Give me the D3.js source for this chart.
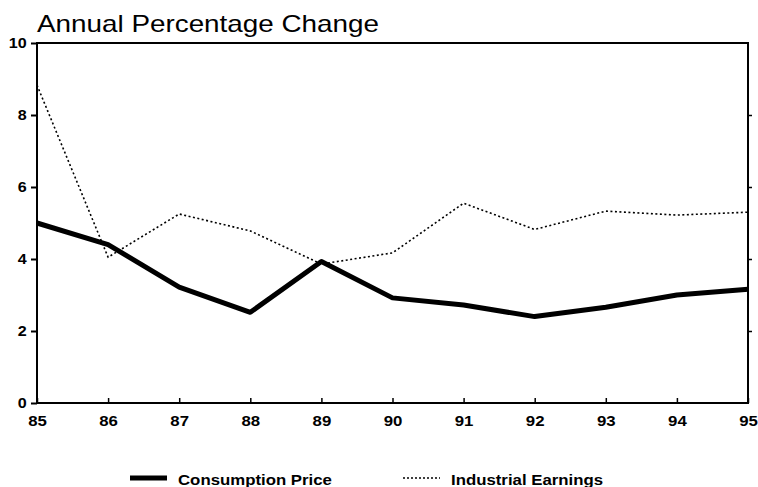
<!DOCTYPE html>
<html>
<head>
<meta charset="utf-8">
<script src="https://cdn.jsdelivr.net/npm/d3@7"></script>
<style>
  body { margin: 0; background: #fff; }
  svg { display: block; font-family: "Liberation Sans", Arial, sans-serif; }
  .tick text { font-weight: bold; font-size: 14px; fill: #000; }
</style>
</head>
<body>
<svg id="chart" width="758" height="487"></svg>
<script>
const years = [85, 86, 87, 88, 89, 90, 91, 92, 93, 94, 95];
const consumptionPrice = [5.0, 4.4, 3.22, 2.52, 3.93, 2.92, 2.72, 2.4, 2.66, 3.0, 3.16];
const industrialEarnings = [8.83, 4.05, 5.25, 4.78, 3.86, 4.17, 5.55, 4.82, 5.33, 5.22, 5.3];
const yTicks = [0, 2, 4, 6, 8, 10];

const margin = {left: 37, right: 10, top: 43, bottom: 84};
const W = 758, H = 487;
const svg = d3.select('#chart');

const x = d3.scaleLinear().domain([85, 95]).range([margin.left, W - margin.right]);
const y = d3.scaleLinear().domain([0, 10]).range([H - margin.bottom, margin.top]);

// title (the scan is a little wide, so stretch it horizontally)
svg.append('text')
  .attr('transform', `translate(${margin.left},32) scale(1.16,1)`)
  .attr('font-size', 24)
  .text('Annual Percentage Change');

// frame
svg.append('rect')
  .attr('x', x(85)).attr('y', y(10))
  .attr('width', x(95) - x(85)).attr('height', y(0) - y(10))
  .attr('fill', 'none').attr('stroke', '#000').attr('stroke-width', 2);

// y axis, ticks outward
const yAxis = svg.append('g')
  .attr('transform', `translate(${x(85)},0)`)
  .call(d3.axisLeft(y).tickValues(yTicks).tickFormat(d3.format('d')).tickSize(6).tickPadding(3));
yAxis.select('.domain').remove();
yAxis.selectAll('.tick line').attr('stroke-width', 2);
yAxis.selectAll('.tick text').attr('transform', 'scale(1.15,1)');

// right side inner ticks
svg.append('g')
  .attr('transform', `translate(${x(95)},0)`)
  .call(d3.axisLeft(y).tickValues(yTicks.slice(1, -1)).tickFormat('').tickSize(-4))
  .call(g => g.select('.domain').remove())
  .selectAll('.tick line').attr('stroke-width', 1.5);

// x axis, ticks inward
const xAxis = svg.append('g')
  .attr('transform', `translate(0,${y(0)})`)
  .call(d3.axisBottom(x).tickValues(years).tickFormat(d3.format('d')).tickSize(-5).tickPadding(13));
xAxis.select('.domain').remove();
xAxis.selectAll('.tick line').attr('stroke-width', 1.5);
xAxis.selectAll('.tick text').attr('transform', 'scale(1.2,1)');

const line = d3.line().x((d, i) => x(years[i])).y(d => y(d));

svg.append('path')
  .datum(industrialEarnings)
  .attr('d', line)
  .attr('fill', 'none').attr('stroke', '#000')
  .attr('stroke-width', 1.6).attr('stroke-dasharray', '2,2.5');

svg.append('path')
  .datum(consumptionPrice)
  .attr('d', line)
  .attr('fill', 'none').attr('stroke', '#000')
  .attr('stroke-width', 5).attr('stroke-linejoin', 'round');

// legend
const legend = [
  {label: 'Consumption Price', x: 130, width: 5, dash: null},
  {label: 'Industrial Earnings', x: 403, width: 1.3, dash: '2,2'}
];
const lg = svg.append('g');
legend.forEach(l => {
  lg.append('line')
    .attr('x1', l.x).attr('x2', l.x + 37)
    .attr('y1', 478).attr('y2', 478)
    .attr('stroke', '#000').attr('stroke-width', l.width)
    .attr('stroke-dasharray', l.dash);
  lg.append('text')
    .attr('transform', `translate(${l.x + 48},485) scale(1.2,1)`)
    .attr('font-size', 14).attr('font-weight', 'bold')
    .text(l.label);
});
</script>
</body>
</html>
